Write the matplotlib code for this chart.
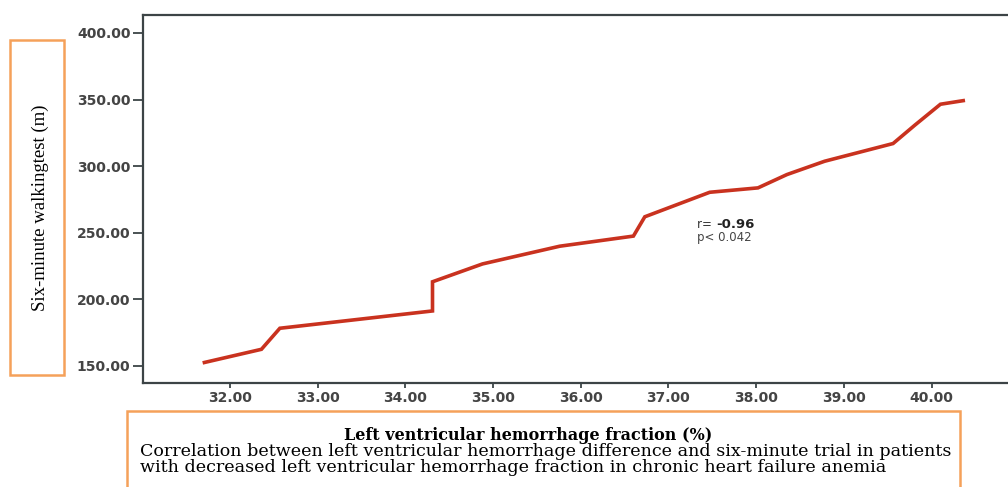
import matplotlib
matplotlib.use("Agg")
import matplotlib.pyplot as plt
from matplotlib.patches import Rectangle

# Left ventricular fraction (%) vs six-minute walking distance (m)
lv_fraction = [31.69, 32.36, 32.57, 34.31, 34.31, 34.88, 35.76, 36.60, 36.73,
               37.47, 38.02, 38.35, 38.78, 39.56, 39.81, 40.10, 40.38]
walk_distance = [152.3, 162.5, 178.3, 191.3, 213.2, 226.6, 239.9, 247.5, 262.0,
                 280.4, 283.7, 293.7, 303.7, 317.0, 330.9, 346.5, 349.4]

x_ticks = [32, 33, 34, 35, 36, 37, 38, 39, 40]
y_ticks = [150, 200, 250, 300, 350, 400]

y_title = "Six-minute walkingtest (m)"
x_title = "Left ventricular hemorrhage fraction (%)"
caption_lines = [
    "Correlation between left ventricular hemorrhage difference and six-minute trial in patients",
    "with decreased left ventricular hemorrhage fraction in chronic heart failure anemia",
]
r_value = "-0.96"
p_text = "p< 0.042"

W, H = 1008, 487
fig = plt.figure(figsize=(W / 100, H / 100), dpi=100)
fig.patch.set_facecolor("white")

ax = fig.add_axes([143 / W, 1 - 383 / H, (W - 143) / W, (383 - 15) / H])
ax.plot(lv_fraction, walk_distance, color="#c9321f", lw=2.6,
        solid_joinstyle="miter", solid_capstyle="butt")

ax.set_xlim(31.01, 40.87)
ax.set_ylim(137.2, 413.5)
ax.set_xticks(x_ticks)
ax.set_yticks(y_ticks)
ax.set_xticklabels([f"{v:.2f}" for v in x_ticks])
ax.set_yticklabels([f"{v:.2f}" for v in y_ticks])

spine_col = "#3c4446"
for side in ("left", "top", "bottom"):
    ax.spines[side].set_color(spine_col)
    ax.spines[side].set_linewidth(1.6)
ax.spines["right"].set_visible(False)

ax.tick_params(axis="y", direction="out", length=7, width=1.3, color=spine_col,
               labelsize=10, labelcolor="#444444", pad=2)
ax.tick_params(axis="x", direction="out", length=3.5, width=1.3, color=spine_col,
               labelsize=10, labelcolor="#444444", pad=2)
for lab in ax.get_xticklabels() + ax.get_yticklabels():
    lab.set_fontweight("bold")
    lab.set_family("DejaVu Sans")

# correlation annotation
ax.text(37.33, 255.9, "r= ", fontsize=8.5, color="#333333",
        family="DejaVu Sans", va="center", ha="left")
ax.text(37.55, 255.9, r_value, fontsize=9.5, color="#222222",
        family="DejaVu Sans", fontweight="bold", va="center", ha="left")
ax.text(37.33, 246.1, p_text, fontsize=8.5, color="#444444",
        family="DejaVu Sans", va="center", ha="left")

# boxed y-axis title
orange = "#f5a15a"
fig.patches.append(Rectangle((10 / W, 1 - 375 / H), 54 / W, 335 / H,
                             transform=fig.transFigure, fill=False,
                             edgecolor=orange, lw=1.8))
fig.text(40 / W, 1 - 208 / H, y_title, rotation=90, ha="center", va="center",
         family="Liberation Serif", fontsize=13.5, color="black")

# boxed x-axis title and caption
fig.patches.append(Rectangle((127 / W, -0.05), (960 - 127) / W, 0.05 + 1 - 411 / H,
                             transform=fig.transFigure, fill=False,
                             edgecolor=orange, lw=1.8))
fig.text(528 / W, 1 - 436 / H, x_title, ha="center", va="center",
         family="DejaVu Serif", fontweight="bold", fontsize=11.5, color="black")
fig.text(140 / W, 1 - 451.5 / H, caption_lines[0], ha="left", va="center",
         family="DejaVu Serif", fontsize=12.6, color="black")
fig.text(140 / W, 1 - 467 / H, caption_lines[1], ha="left", va="center",
         family="DejaVu Serif", fontsize=12.6, color="black")

fig.savefig("out.png", dpi=100, facecolor="white")
